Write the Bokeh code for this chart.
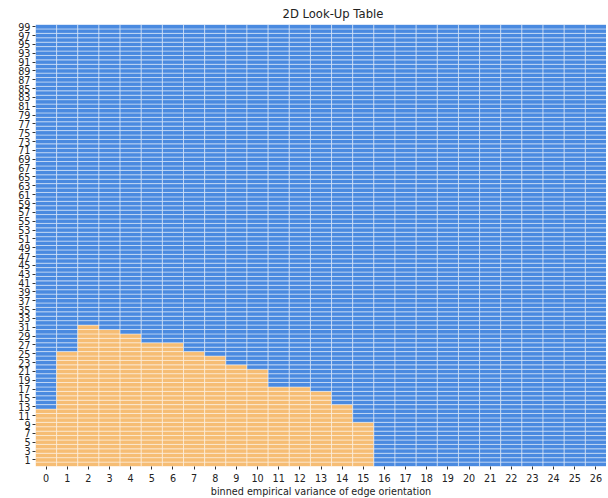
from bokeh.plotting import figure
from bokeh.models import ColumnDataSource, FixedTicker, Range1d
from bokeh.embed import file_html
from bokeh.resources import INLINE

# Data: column bins 0..26, rows 0..99; orange (lookup = 1) for rows <= threshold
x_bins = list(range(27))
y_bins = list(range(100))
thresholds = [12, 25, 31, 30, 29, 27, 27, 25, 24, 22, 21, 17, 17, 16, 13, 9,
              -1, -1, -1, -1, -1, -1, -1, -1, -1, -1, -1]
y_tick_labels = [str(v) for v in range(1, 100, 2)]
title_text = "2D Look-Up Table"
x_label = "binned empirical variance of edge orientation"

BLUE = "#4a8ae0"
ORANGE = "#f6bd74"

xs, ys, cols = [], [], []
for xi, th in zip(x_bins, thresholds):
    for yi in y_bins:
        xs.append(xi)
        ys.append(yi)
        cols.append(ORANGE if yi <= th else BLUE)
src = ColumnDataSource(dict(x=xs, y=ys, c=cols))

p = figure(frame_width=571, frame_height=442, output_backend="svg", toolbar_location=None,
           x_range=Range1d(-0.5, 26.5), y_range=Range1d(-0.5, 99.5),
           min_border_left=35, min_border_right=0, min_border_bottom=0,
           min_border_top=0)
p.title.text = title_text
p.title.align = "left"
p.title.offset = 247
p.title.text_font = "DejaVu Sans"
p.title.text_font_size = "11.6px"
p.title.text_font_style = "normal"
p.title.text_color = "#222222"
p.title.standoff = 8

p.rect(x="x", y="y", width=1, height=1, source=src, fill_color="c",
       line_color="white", line_alpha=0.45, line_width=1)

p.grid.visible = False
p.outline_line_color = None
p.background_fill_color = "white"

p.xaxis.ticker = FixedTicker(ticks=x_bins)
p.yaxis.ticker = FixedTicker(ticks=[int(t) for t in y_tick_labels])
for ax in (p.xaxis[0], p.yaxis[0]):
    ax.axis_line_color = None
    ax.major_tick_in = 0
    ax.major_tick_out = 3
    ax.major_tick_line_color = "#333333"
    ax.minor_tick_line_color = None
    ax.major_label_text_font = "DejaVu Sans"
    ax.major_label_text_font_size = "9.65px"
    ax.major_label_text_color = "#222222"
    ax.major_label_standoff = 2
p.xaxis.major_label_standoff = 4
p.xaxis.axis_label = x_label
p.xaxis.axis_label_text_font = "DejaVu Sans"
p.xaxis.axis_label_text_font_size = "9.65px"
p.xaxis.axis_label_text_font_style = "normal"
p.xaxis.axis_label_text_color = "#222222"
p.xaxis.axis_label_standoff = 1

open("out.html", "w").write(file_html(p, INLINE))
